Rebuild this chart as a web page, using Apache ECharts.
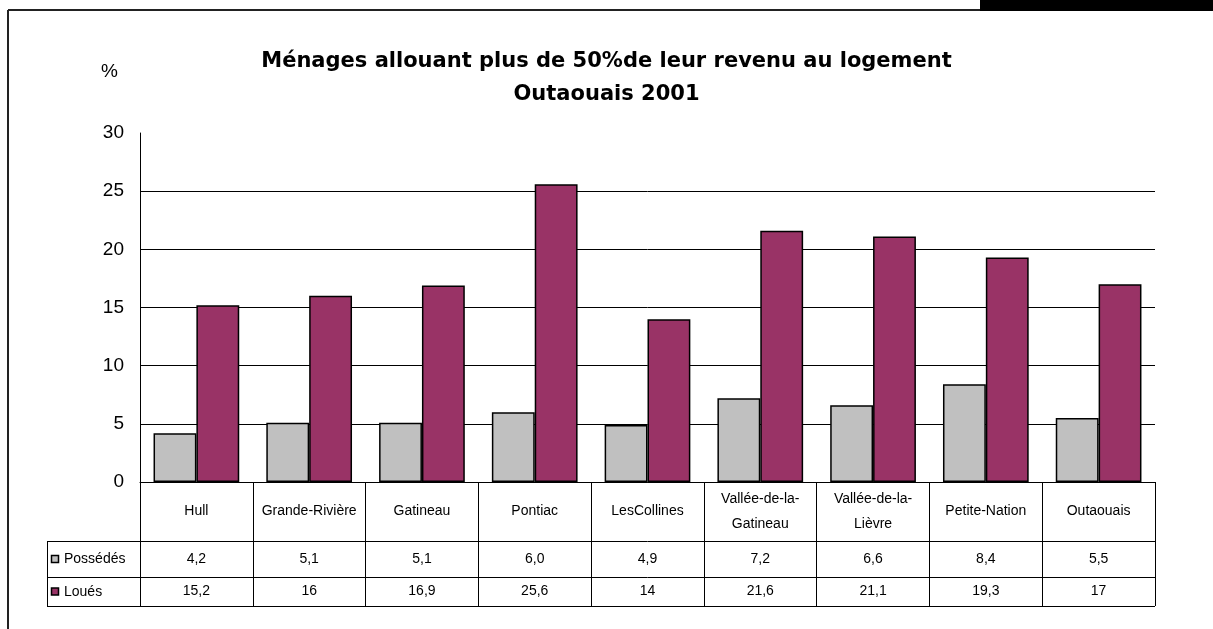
<!DOCTYPE html>
<html>
<head>
<meta charset="utf-8">
<script src="https://cdn.jsdelivr.net/npm/echarts@6/dist/echarts.min.js"></script>
<style>
  html, body { margin: 0; padding: 0; background: #fff; }
  #chart { width: 1213px; height: 629px; }
</style>
</head>
<body>
<div id="chart"></div>
<script>
var categories = ["Hull", "Grande-Rivière", "Gatineau", "Pontiac", "LesCollines",
  "Vallée-de-la-\nGatineau", "Vallée-de-la-\nLièvre", "Petite-Nation", "Outaouais"];
var possedes = [4.2, 5.1, 5.1, 6.0, 4.9, 7.2, 6.6, 8.4, 5.5];
var loues = [15.2, 16, 16.9, 25.6, 14, 21.6, 21.1, 19.3, 17];
var possedesLabels = ["4,2", "5,1", "5,1", "6,0", "4,9", "7,2", "6,6", "8,4", "5,5"];
var louesLabels = ["15,2", "16", "16,9", "25,6", "14", "21,6", "21,1", "19,3", "17"];
var seriesNames = ["Possédés", "Loués"];
var colors = ["#c0c0c0", "#993366"];

var font = "Arial, 'Liberation Sans', sans-serif";
var chart = echarts.init(document.getElementById("chart"));

// table rows: top of each row below the x axis, and row heights
var rowTop = [0, 59, 95];
var rowH = [59, 36, 29];
var axisY = 482;

// table rows under the plot are drawn as extra category axes
function tableAxis(data, i, size) {
  return {
    type: "category",
    data: data,
    position: "bottom",
    offset: rowTop[i],
    axisLine: { show: true, lineStyle: { color: "#000", width: 1 } },
    axisTick: { show: true, interval: 0, length: rowH[i], lineStyle: { color: "#000" } },
    axisLabel: {
      interval: 0, margin: rowH[i] / 2, verticalAlign: "middle",
      color: "#000", fontSize: size, fontFamily: font, lineHeight: 25
    },
    splitLine: { show: false }
  };
}

var y1 = axisY + rowTop[1] + 0.5;
var y2 = axisY + rowTop[2] + 0.5;
var y3 = axisY + rowTop[2] + rowH[2] + 0.5;

var option = {
  animation: false,
  backgroundColor: "#fff",
  title: {
    text: "Ménages allouant plus de 50%de leur revenu au logement\nOutaouais 2001",
    left: "center",
    top: 40,
    textStyle: { fontFamily: "'DejaVu Sans', sans-serif", fontSize: 21, fontWeight: "bold", color: "#000", lineHeight: 33 }
  },
  grid: { left: 140, right: 58, top: 133, bottom: 629 - axisY, containLabel: false },
  xAxis: [
    tableAxis(categories, 0, 14),
    tableAxis(possedesLabels, 1, 14),
    tableAxis(louesLabels, 2, 14)
  ],
  yAxis: {
    type: "value",
    min: 0,
    max: 30,
    interval: 5,
    name: "%",
    nameLocation: "end",
    nameGap: 52,
    nameTextStyle: { fontFamily: font, fontSize: 19, color: "#000", align: "right", padding: [0, 22, 0, 0] },
    axisLine: { show: true, lineStyle: { color: "#000", width: 1 } },
    axisTick: { show: false },
    axisLabel: { color: "#000", fontSize: 19, fontFamily: font, margin: 16 },
    splitLine: { show: true, showMaxLine: false, lineStyle: { color: "#000", width: 1 } }
  },
  series: [
    {
      name: seriesNames[0],
      type: "bar",
      data: possedes,
      barGap: "0%",
      barCategoryGap: "24%",
      itemStyle: { color: colors[0], borderColor: "#000", borderWidth: 1.5 }
    },
    {
      name: seriesNames[1],
      type: "bar",
      data: loues,
      itemStyle: { color: colors[1], borderColor: "#000", borderWidth: 1.5 }
    }
  ],
  graphic: [
    // outer frame
    { type: "rect", shape: { x: 980, y: 0, width: 233, height: 11 }, style: { fill: "#000" } },
    { type: "line", shape: { x1: 8, y1: 10, x2: 980, y2: 10 }, style: { stroke: "#222", lineWidth: 2 } },
    { type: "line", shape: { x1: 8, y1: 10, x2: 8, y2: 629 }, style: { stroke: "#222", lineWidth: 2 } },
    // left column of the data table
    { type: "line", shape: { x1: 47, y1: y1, x2: 140, y2: y1 }, style: { stroke: "#000", lineWidth: 1 } },
    { type: "line", shape: { x1: 47, y1: y2, x2: 140, y2: y2 }, style: { stroke: "#000", lineWidth: 1 } },
    { type: "line", shape: { x1: 47, y1: y3, x2: 1155, y2: y3 }, style: { stroke: "#000", lineWidth: 1 } },
    { type: "line", shape: { x1: 47.5, y1: y1, x2: 47.5, y2: y3 }, style: { stroke: "#000", lineWidth: 1 } },
    { type: "rect", shape: { x: 51.5, y: (y1 + y2) / 2 - 4, width: 7, height: 7 }, style: { fill: colors[0], stroke: "#000", lineWidth: 1.5 } },
    { type: "rect", shape: { x: 51.5, y: (y2 + y3) / 2 - 4, width: 7, height: 7 }, style: { fill: colors[1], stroke: "#000", lineWidth: 1.5 } },
    { type: "text", x: 64, y: (y1 + y2) / 2, style: { text: seriesNames[0], fill: "#000", font: "14px " + font, verticalAlign: "middle" } },
    { type: "text", x: 64, y: (y2 + y3) / 2, style: { text: seriesNames[1], fill: "#000", font: "14px " + font, verticalAlign: "middle" } }
  ]
};

chart.setOption(option);
</script>
</body>
</html>
